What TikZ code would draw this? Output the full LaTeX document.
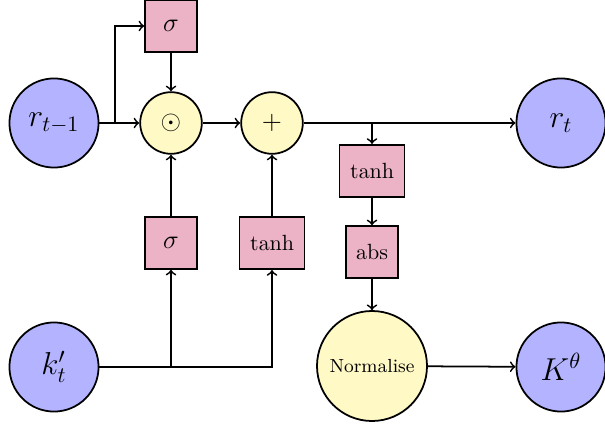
\documentclass[tikz,border=0pt]{standalone}
\usetikzlibrary{arrows}
\definecolor{bluefill}{RGB}{179,179,255}
\definecolor{yelfill}{RGB}{255,249,197}
\definecolor{pinkfill}{RGB}{236,178,198}
\begin{document}
\begin{tikzpicture}[x=0.4545pt,y=-0.4545pt,
  bluec/.style={circle,draw,thick,fill=bluefill,minimum size=40.5pt,inner sep=0pt,font=\Large},
  yelc/.style={circle,draw,thick,fill=yelfill,minimum size=28pt,inner sep=0pt,font=\fontsize{13}{15}\selectfont},
  bigyel/.style={circle,draw,thick,fill=yelfill,minimum size=50pt,inner sep=0pt,font=\fontsize{8.6}{10}\selectfont},
  sqbox/.style={rectangle,draw,thick,fill=pinkfill,minimum width=23.5pt,minimum height=23.5pt,inner sep=0pt},
  widebox/.style={rectangle,draw,thick,fill=pinkfill,minimum width=29.5pt,minimum height=23.8pt,inner sep=0pt},
  conn/.style={->,thick}]
\useasboundingbox (0,0) rectangle (605,426);
\node[bluec] (rprev) at (54,123) {$r_{t-1}$};
\node[yelc] (odot) at (171,123) {$\odot$};
\node[yelc] (plus) at (272,123) {$+$};
\node[bluec] (rt) at (561,123) {$r_t$};
\node[sqbox,font=\large] (sigtop) at (171,26) {$\sigma$};
\node[widebox] (tanhR) at (372,171) {$\tanh$};
\node[sqbox] (abs) at (372,252) {abs};
\node[bigyel] (norm) at (372,366) {Normalise};
\node[bluec] (K) at (561,367) {$K^\theta$};
\node[bluec] (kt) at (54,367) {$k'_t$};
\node[sqbox,font=\large] (sigL) at (171,243) {$\sigma$};
\node[widebox] (tanhL) at (272,243) {$\tanh$};
\coordinate (b1) at (115,123);
\draw[conn] (rprev) -- (odot);
\draw[conn] (b1) |- (sigtop);
\draw[conn] (sigtop) -- (odot);
\draw[conn] (odot) -- (plus);
\draw[conn] (plus) -- (rt);
\draw[conn] (plus) -| (tanhR);
\draw[conn] (tanhR) -- (abs);
\draw[conn] (abs) -- (norm);
\draw[conn] (norm) -- (K);
\draw[conn] (kt) -| (sigL);
\draw[conn] (kt) -| (tanhL);
\draw[conn] (sigL) -- (odot);
\draw[conn] (tanhL) -- (plus);
\end{tikzpicture}
\end{document}
